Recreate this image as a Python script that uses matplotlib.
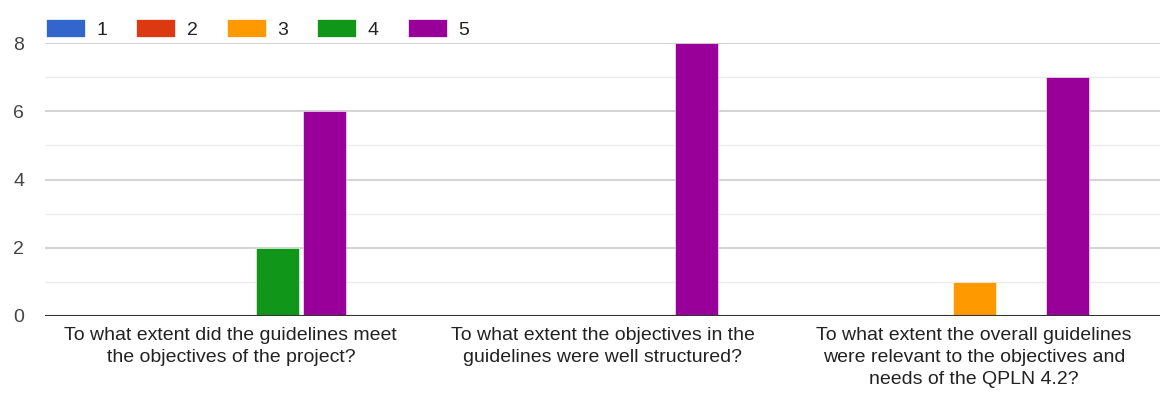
import matplotlib.pyplot as plt
import matplotlib.patches as mpatches
import numpy as np

plt.rcParams["font.family"] = ["Liberation Sans", "DejaVu Sans"]

# ------------------------------------------------------------------------------------------
# data
questions = [
    "To what extent did the guidelines meet\nthe objectives of the project?",
    "To what extent the objectives in the\nguidelines were well structured?",
    "To what extent the overall guidelines\nwere relevant to the objectives and\nneeds of the QPLN 4.2?",
]
series_labels = ["1", "2", "3", "4", "5"]
series_colors = ["#3366cc", "#dc3912", "#ff9900", "#109618", "#990099"]
counts_1 = [0, 0, 0]
counts_2 = [0, 0, 0]
counts_3 = [0, 0, 1]
counts_4 = [2, 0, 0]
counts_5 = [6, 8, 7]
all_counts = [counts_1, counts_2, counts_3, counts_4, counts_5]

# ------------------------------------------------------------------------------------------
fig = plt.figure(figsize=(11.61, 3.94), dpi=100)
ax = fig.add_axes([45 / 1161, 1 - 316 / 394, 1115 / 1161, 273 / 394])

x = np.arange(len(questions))
step = 0.126
width = 0.116

for crrt_index, crrt_counts in enumerate(all_counts):
    ax.bar(x + (crrt_index - 2) * step, crrt_counts, width=width,
           color=series_colors[crrt_index], edgecolor="white", linewidth=0.4,
           zorder=3)

ax.set_xlim(-0.5, 2.5)
ax.set_ylim(0, 8)
ax.set_yticks([0, 2, 4, 6, 8])
ax.set_yticks([1, 3, 5, 7], minor=True)
ax.grid(axis="y", which="major", color="#cccccc", linewidth=1.2, zorder=0)
ax.grid(axis="y", which="minor", color="#ebebeb", linewidth=1.0, zorder=0)
ax.axhline(0, color="#333333", linewidth=1.5, zorder=4)

for spine in ax.spines.values():
    spine.set_visible(False)

ax.set_xticks(x)
ax.set_xticklabels(questions, fontsize=14, color="#222222", linespacing=1.38)
ax.tick_params(axis="x", length=0, pad=8)
ax.tick_params(axis="y", which="both", length=0, labelsize=14,
               labelcolor="#444444", pad=15)

handles = [mpatches.Patch(facecolor=c, edgecolor="white", linewidth=0.5)
           for c in series_colors]
fig.legend(handles, series_labels, loc="center left",
           bbox_to_anchor=(46 / 1161, 1 - 29 / 394), ncol=5, frameon=False,
           fontsize=14, handlelength=2.0, handleheight=1.05,
           handletextpad=0.6, columnspacing=1.49, labelcolor="#222222",
           borderaxespad=0, borderpad=0)

fig.savefig("out.png", dpi=100)
